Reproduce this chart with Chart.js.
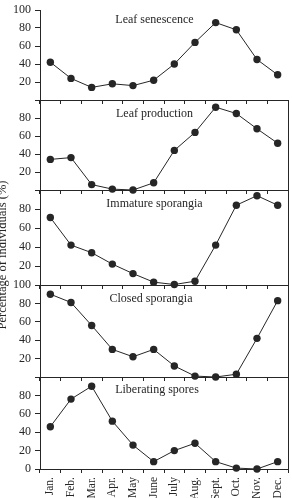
<!DOCTYPE html>
<html>
<head>
<meta charset="utf-8">
<script src="https://cdn.jsdelivr.net/npm/chart.js@4.4.1/dist/chart.umd.min.js"></script>
<style>
  html, body { margin: 0; padding: 0; background: #fff; }
  #wrap { position: relative; width: 292px; height: 498px; overflow: hidden; }
  #wrap canvas { position: absolute; left: 0; top: 0; }
</style>
</head>
<body>
<div id="wrap">
  <canvas id="panel-0" width="292" height="498"></canvas>
  <canvas id="panel-1" width="292" height="498"></canvas>
  <canvas id="panel-2" width="292" height="498"></canvas>
  <canvas id="panel-3" width="292" height="498"></canvas>
  <canvas id="panel-4" width="292" height="498"></canvas>
</div>
<script>
// data
const months = ['Jan.', 'Feb.', 'Mar.', 'Apr.', 'May', 'June', 'July', 'Aug.', 'Sept.', 'Oct.', 'Nov.', 'Dec.'];
const panelNames = ['Leaf senescence', 'Leaf production', 'Immature sporangia', 'Closed sporangia', 'Liberating spores'];
const leafSenescence = [42, 24, 14, 18, 16, 22, 40, 64, 86, 78, 45, 28];
const leafProduction = [34, 36, 6, 1, 0, 8, 44, 64, 92, 85, 68, 52];
const immatureSporangia = [71, 42, 34, 22, 12, 3, 0.5, 4, 42, 84, 94, 84];
const closedSporangia = [90, 81, 56, 30, 22, 30, 12, 1, 0, 3, 42, 83];
const liberatingSpores = [46, 76, 90, 52, 26, 8, 20, 28, 8, 1, 0, 8];
const yLabelsShown = [
    [20, 40, 60, 80, 100],
    [20, 40, 60, 80],
    [20, 40, 60, 80],
    [20, 40, 60, 80, 100],
    [0, 20, 40, 60, 80]
];
const yAxisTitle = 'Percentage of individuals (%)';

const panelData = [leafSenescence, leafProduction, immatureSporangia, closedSporangia, liberatingSpores];

// layout of the stacked panels (pixels)
const panelTop = [10, 100, 190, 285, 377];
const panelBottom = [100, 190, 285, 377, 469];
const namePos = [[154.5, 19.5], [154.5, 113.5], [154.5, 203.5], [151, 298.5], [157, 390]];

const ink = '#262626';
const serif = '"Liberation Serif", "Times New Roman", serif';

const panelText = {
    id: 'panelText',
    beforeDatasetsDraw(chart, args, opts) {
        const ctx = chart.ctx;
        ctx.save();
        ctx.fillStyle = ink;
        ctx.font = '12px ' + serif;
        ctx.textAlign = 'center';
        ctx.textBaseline = 'middle';
        ctx.fillText(opts.text, opts.x, opts.y);
        if (opts.yTitle) {
            // axis title runs down the whole stack, partly cut at the left edge
            ctx.translate(5.5, 255);
            ctx.rotate(-Math.PI / 2);
            ctx.font = '12.5px ' + serif;
            ctx.textBaseline = 'alphabetic';
            ctx.fillText(opts.yTitle, 0, 0);
        }
        ctx.restore();
    }
};

function makePanel(i) {
    const last = i === panelData.length - 1;
    return new Chart(document.getElementById('panel-' + i), {
        type: 'line',
        data: {
            labels: months,
            datasets: [{
                data: panelData[i],
                borderColor: ink,
                borderWidth: 1,
                pointRadius: 3.7,
                pointBackgroundColor: ink,
                pointBorderColor: ink,
                pointBorderWidth: 0,
                tension: 0,
                clip: false
            }]
        },
        options: {
            responsive: false,
            animation: false,
            devicePixelRatio: 1,
            layout: { padding: { top: panelTop[i], left: 0, right: 0, bottom: 0 } },
            plugins: {
                legend: { display: false },
                tooltip: { enabled: false },
                panelText: {
                    text: panelNames[i],
                    x: namePos[i][0],
                    y: namePos[i][1],
                    yTitle: i === 2 ? yAxisTitle : null
                }
            },
            scales: {
                x: {
                    offset: true,
                    grid: { offset: true, drawOnChartArea: false, drawTicks: true, tickLength: 4, color: ink },
                    border: { color: ink, width: 1 },
                    ticks: {
                        display: last,
                        minRotation: 90,
                        maxRotation: 90,
                        padding: 4,
                        color: ink,
                        font: { family: serif, size: 11.5 }
                    },
                    afterFit: s => {
                        s.height = 498 - panelBottom[i];
                        s.paddingLeft = 0;
                        s.paddingRight = 0;
                    }
                },
                y: {
                    min: 0,
                    max: 100,
                    grid: { drawOnChartArea: false, drawTicks: true, tickLength: 5, color: ink },
                    border: { color: ink, width: 1 },
                    ticks: {
                        stepSize: 20,
                        padding: 4,
                        color: ink,
                        font: { family: serif, size: 12 },
                        callback: v => yLabelsShown[i].includes(v) ? v : ''
                    },
                    afterFit: s => {
                        s.width = 40;
                        s.paddingTop = 0;
                        s.paddingBottom = 0;
                    }
                },
                right: {
                    position: 'right',
                    min: 0,
                    max: 100,
                    grid: { drawOnChartArea: false, drawTicks: false },
                    border: { display: i > 0, color: ink, width: 1 },
                    ticks: { display: false },
                    afterFit: s => {
                        s.width = 3;
                        s.paddingTop = 0;
                        s.paddingBottom = 0;
                    }
                }
            }
        },
        plugins: [panelText]
    });
}

const charts = panelData.map((d, i) => makePanel(i));
</script>
</body>
</html>
